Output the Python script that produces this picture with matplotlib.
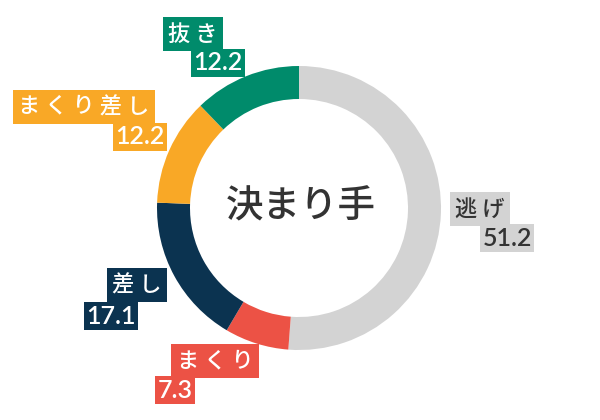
import matplotlib.pyplot as plt

plt.rcParams["font.family"] = ["Noto Sans CJK JP", "DejaVu Sans"]

# 決まり手の割合 (%)
labels = ["逃げ", "まくり", "差し", "まくり差し", "抜き"]
values = [51.2, 7.3, 17.1, 12.2, 12.2]
colors = ["#d3d3d3", "#ec5245", "#0b3350", "#f9a826", "#008b6b"]
text_colors = ["#333333", "white", "white", "white", "white"]

# ラベルの箱の中心 (ピクセル座標, y は上から)
name_pos = [(480, 209), (215, 361), (137, 285), (84, 107), (193, 34)]
value_pos = [(507, 238), (175, 390), (111, 316), (140, 137), (218, 63)]

fig = plt.figure(figsize=(6, 4.2), dpi=100)
ax = fig.add_axes([0, 0, 1, 1])

ax.pie(
    values,
    colors=colors,
    startangle=90,
    counterclock=False,
    center=(299, 420 - 208),
    radius=142,
    wedgeprops=dict(width=33, edgecolor="none"),
    frame=True,
)
ax.set_xlim(0, 600)
ax.set_ylim(0, 420)
ax.set_aspect("equal")
ax.axis("off")

ax.text(301, 420 - 206, "決まり手", ha="center", va="center",
        fontsize=27, color="#333333", weight="medium")

for lab, val, col, tcol, (nx, ny), (vx, vy) in zip(
        labels, values, colors, text_colors, name_pos, value_pos):
    ax.text(nx, 420 - ny, " ".join(lab), ha="center", va="center", fontsize=16,
            color=tcol, weight="medium",
            bbox=dict(boxstyle="square,pad=0.25", facecolor=col, edgecolor="none"))
    ax.text(vx, 420 - vy, f"{val:.1f}", ha="center", va="center", fontsize=18,
            color=tcol, family=["Lato", "DejaVu Sans"], weight="semibold",
            bbox=dict(boxstyle="square,pad=0.1", facecolor=col, edgecolor="none"))

plt.savefig("out.png", dpi=100)
plt.close()
